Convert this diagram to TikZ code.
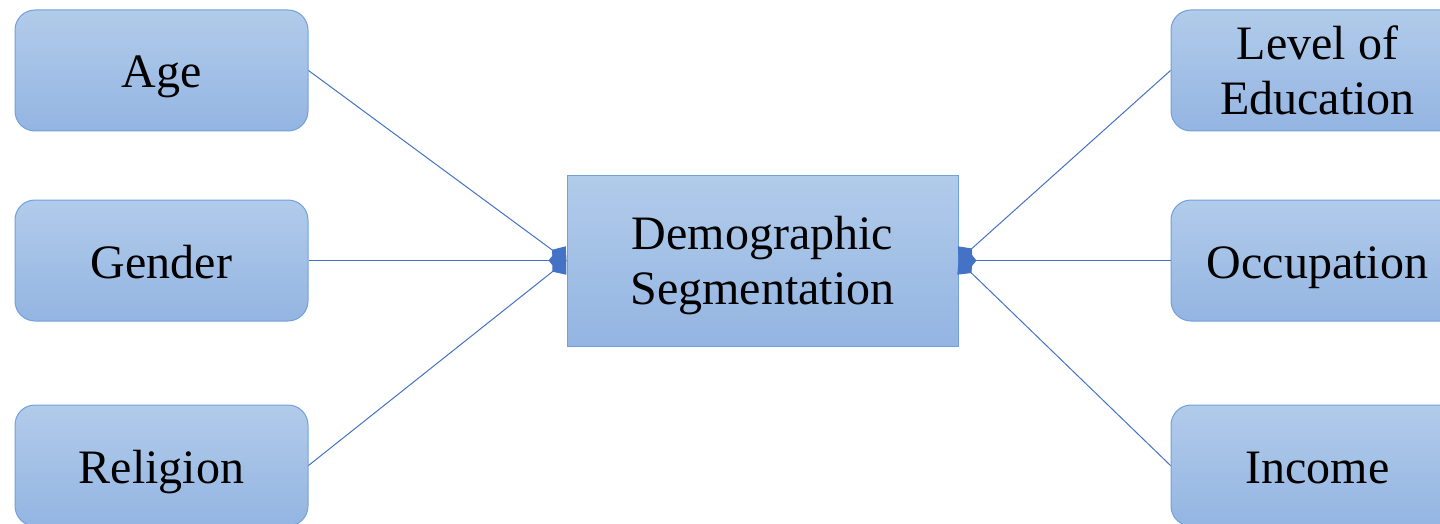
\documentclass[tikz,border=0pt]{standalone}
\usepackage{fontspec}
\setmainfont{Liberation Serif}
\usetikzlibrary{arrows.meta}
\definecolor{boxtop}{RGB}{177,203,234}
\definecolor{boxbottom}{RGB}{148,181,226}
\definecolor{boxline}{RGB}{113,160,218}
\definecolor{linkline}{RGB}{68,114,196}
\tikzset{
  factor/.style={rectangle, rounded corners=10pt, draw=boxline, line width=0.5pt,
    top color=boxtop, bottom color=boxbottom, minimum width=146.5pt,
    minimum height=60.5pt, inner sep=0pt, align=center,
    text height=19pt, text depth=1.5pt,
    font=\fontsize{24}{27.5}\selectfont},
  twoline/.style={text height=45.5pt, text depth=1.5pt},
  segment/.style={factor, twoline, rounded corners=0pt, minimum width=195.5pt, minimum height=85.5pt},
  link/.style={draw=linkline, line width=0.5pt, -{Diamond[length=9pt, width=11pt]}}
}
\begin{document}
\begin{tikzpicture}[x=0.5pt,y=0.5pt,yscale=-1,xscale=1]
        \useasboundingbox (0,0) rectangle (1440,524);
        \clip (0,0) rectangle (1440,524);
        
        % Centre box
        \node [segment] (seg) at (762.5,260.5) {Demographic\\Segmentation};
        
        % Left factors
        \node [factor] (age) at (161.5,70.5) {Age};
        \node [factor] (gender) at (161.5,260.5) {Gender};
        \node [factor] (religion) at (161.5,465.5) {Religion};
        
        % Right factors
        \node [factor, twoline] (edu) at (1317.5,70.5) {Level of\\Education};
        \node [factor] (job) at (1317.5,260.5) {Occupation};
        \node [factor] (income) at (1317.5,465.5) {Income};
        
        % Links
        \draw [link] (age.east) -- (seg.west);
        \draw [link] (gender.east) -- (seg.west);
        \draw [link] (religion.east) -- (seg.west);
        \draw [link] (edu.west) -- (seg.east);
        \draw [link] (job.west) -- (seg.east);
        \draw [link] (income.west) -- (seg.east);
        
\end{tikzpicture}
\end{document}
